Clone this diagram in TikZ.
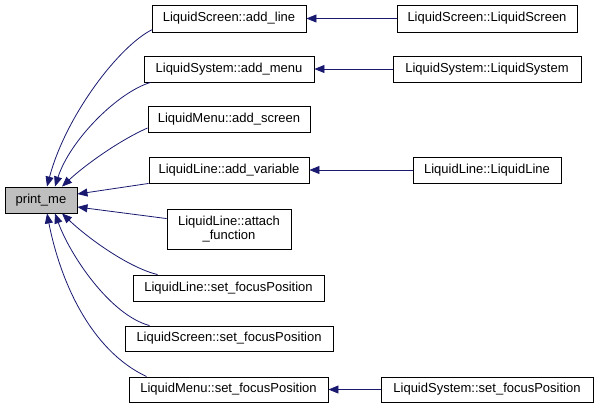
\documentclass[tikz,border=0pt]{standalone}
\usepackage{fontspec}
\setmainfont{Liberation Sans}
\usetikzlibrary{arrows.meta,calc}
\definecolor{edgecol}{HTML}{191970}
\definecolor{boxgray}{HTML}{BFBFBF}
\tikzset{
  fnbox/.style={draw=black, line width=0.9pt, inner sep=0pt, align=center,
    font=\fontsize{13}{14.5}\selectfont},
  edge/.style={draw=edgecol, line width=0.8pt,
    -{Triangle[length=10pt,width=8pt]}},
}
\begin{document}
\begin{tikzpicture}[x=1pt,y=-1pt]
\useasboundingbox (0,0) rectangle (599,408);
% nodes
\node[fnbox, fill=boxgray, minimum width=72pt, minimum height=26pt] (pm) at (41,200) {print\_me};
\node[fnbox, minimum width=154pt, minimum height=27pt] (al) at (229,18.5) {LiquidScreen::add\_line};
\node[fnbox, minimum width=170pt, minimum height=26pt] (am) at (229,69) {LiquidSystem::add\_menu};
\node[fnbox, minimum width=162pt, minimum height=26pt] (as) at (229,119) {LiquidMenu::add\_screen};
\node[fnbox, minimum width=160pt, minimum height=26pt] (av) at (229,170) {LiquidLine::add\_variable};
\node[fnbox, minimum width=124pt, minimum height=40pt] (af) at (229,229) {LiquidLine::attach\\\_function};
\node[fnbox, minimum width=191pt, minimum height=26pt] (lf) at (228.5,288) {LiquidLine::set\_focusPosition};
\node[fnbox, minimum width=208pt, minimum height=25pt] (sf) at (229,338.5) {LiquidScreen::set\_focusPosition};
\node[fnbox, minimum width=199pt, minimum height=25pt] (mf) at (228.5,389.5) {LiquidMenu::set\_focusPosition};
\node[fnbox, minimum width=180pt, minimum height=27pt] (lsc) at (487,18.5) {LiquidScreen::LiquidScreen};
\node[fnbox, minimum width=188pt, minimum height=26pt] (lsy) at (487,69) {LiquidSystem::LiquidSystem};
\node[fnbox, minimum width=148pt, minimum height=26pt] (lli) at (487,170) {LiquidLine::LiquidLine};
\node[fnbox, minimum width=212pt, minimum height=25pt] (ssf) at (487,389.5) {LiquidSystem::set\_focusPosition};
% right-hand edges
\draw[edge] (lsc.west) -- (al.east);
\draw[edge] (lsy.west) -- (am.east);
\draw[edge] (lli.west) -- (av.east);
\draw[edge] (ssf.west) -- (mf.east);
% edges into print_me (top)
\draw[edge] ($(al.south west)+(1,-3)$) .. controls (120,45) and (66,115) .. ($(pm.north)+(6,0)$);
\draw[edge] ($(am.south west)+(7,0)$) .. controls (118,92) and (70,140) .. ($(pm.north)+(14,0)$);
\draw[edge] ($(as.west)+(0,9)$) .. controls (120,140) and (85,165) .. ($(pm.north)+(21,0)$);
% edges into print_me (right side)
\draw[edge] (av.south west) -- ($(pm.east)+(0,-6)$);
\draw[edge] ($(af.north west)+(0,10)$) -- ($(pm.east)+(0,7)$);
% edges into print_me (bottom)
\draw[edge] ($(lf.north west)+(25,0)$) .. controls (130,268) and (90,240) .. ($(pm.south)+(21,0)$);
\draw[edge] ($(sf.north west)+(25,0)$) .. controls (110,315) and (70,255) .. ($(pm.south)+(14,0)$);
\draw[edge] ($(mf.north west)+(18,0)$) .. controls (90,350) and (60,280) .. ($(pm.south)+(6,0)$);
\end{tikzpicture}
\end{document}
